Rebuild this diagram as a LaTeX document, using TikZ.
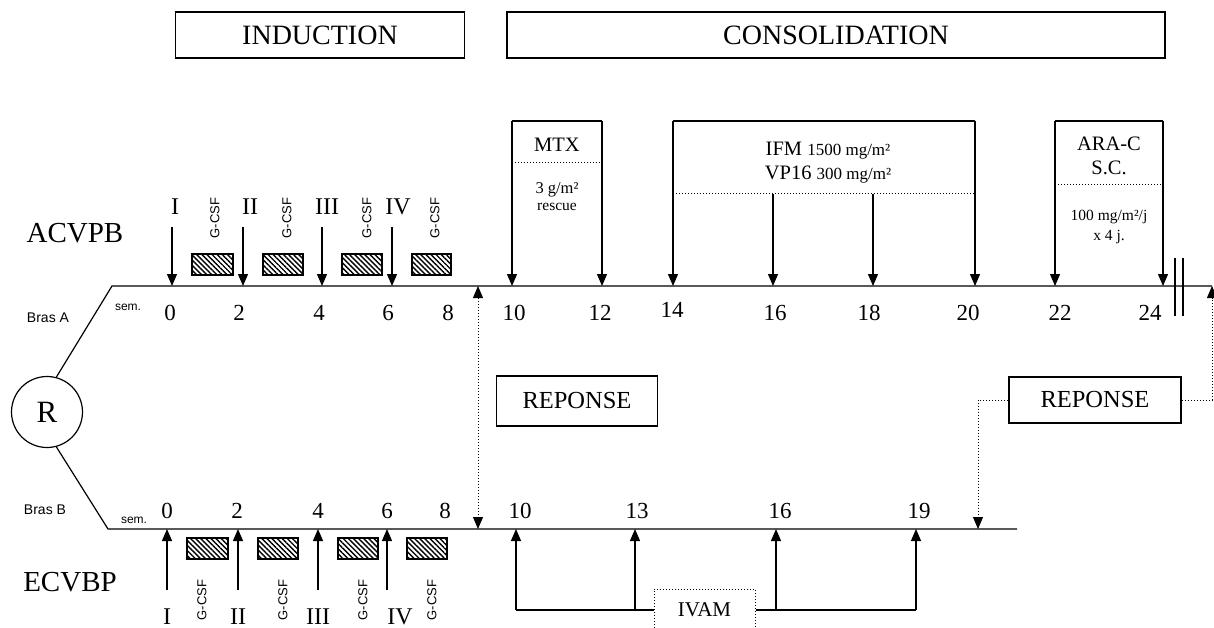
\documentclass[tikz,border=0pt]{standalone}
\usepackage{fontspec}
\setmainfont{Liberation Serif}
\setsansfont{Liberation Sans}
\usetikzlibrary{arrows.meta,patterns.meta}

\begin{document}
\begin{tikzpicture}[
                x = 1pt, y = -1pt,
                line width = 1.2pt,
                arr/.style = {draw, line width = 1.2pt, -{Triangle[length = 12pt, width = 10pt]}},
                dots/.style = {draw, line width = 1pt, dotted},
                darr/.style = {dots, {Triangle[length = 12pt, width = 10pt]}-{Triangle[length = 12pt, width = 10pt]}},
                box/.style = {draw, line width = 1.1pt, inner sep = 0pt},
                hatch/.style = {draw, line width = 1.2pt, pattern = {Lines[angle = -45, distance = 3.6pt, line width = 1.4pt]}},
                num/.style = {font = \fontsize{23}{25}\selectfont},
                roman/.style = {font = \fontsize{24}{26}\selectfont},
                title/.style = {font = \fontsize{28}{30}\selectfont},
                arm/.style = {font = \fontsize{29}{31}\selectfont},
                gcsf/.style = {font = \sffamily\fontsize{13}{15}\selectfont, rotate = 90},
                small/.style = {font = \sffamily\fontsize{14}{16}\selectfont},
                sem/.style = {font = \sffamily\fontsize{12}{14}\selectfont},
                drug/.style = {font = \fontsize{20.5}{24}\selectfont, align = center},
                dose/.style = {font = \fontsize{16.5}{20}\selectfont, align = center},
            ]
            \useasboundingbox (0, 0) rectangle (1214, 628);

            \node (IND) at (320, 35) [box, title, minimum width = 289pt, minimum height = 46pt] {INDUCTION};
            \node (CONS) at (836, 35) [box, title, minimum width = 658pt, minimum height = 46pt] {CONSOLIDATION};

            \node (ACVPB) at (75, 233) [arm] {ACVPB};
            \node (ECVBP) at (70, 582) [arm] {ECVBP};
            \node (BrasA) at (48, 318) [small] {Bras A};
            \node (BrasB) at (45, 510) [small] {Bras B};
            \node (semA) at (128, 307) [sem] {sem.};
            \node (semB) at (134, 520) [sem] {sem.};

            \node (R) at (47, 412) [draw, circle, line width = 1.2pt, minimum size = 71pt, inner sep = 0pt, font = \fontsize{31}{33}\selectfont] {R};

            \coordinate (A0) at (112, 286);
            \coordinate (Aend) at (1212, 286);
            \coordinate (B0) at (108, 529);
            \coordinate (Bend) at (1017, 529);
            \draw (R.75) -- (A0) -- (Aend);
            \draw (R.-75) -- (B0) -- (Bend);
            \draw (1175, 258) -- (1175, 316);
            \draw (1183, 258) -- (1183, 316);

            \node (nA0) at (170, 313) [num] {0};
            \node (nA2) at (239, 313) [num] {2};
            \node (nA4) at (319, 313) [num] {4};
            \node (nA6) at (388, 313) [num] {6};
            \node (nA8) at (448, 313) [num] {8};
            \node (nA10) at (514, 313) [num] {10};
            \node (nA12) at (600, 313) [num] {12};
            \node (nA14) at (672, 310) [num] {14};
            \node (nA16) at (775, 313) [num] {16};
            \node (nA18) at (869, 313) [num] {18};
            \node (nA20) at (968, 313) [num] {20};
            \node (nA22) at (1060, 313) [num] {22};
            \node (nA24) at (1150, 313) [num] {24};

            \node (rAI) at (175, 207) [roman] {I};
            \node (rAII) at (250, 207) [roman] {II};
            \node (rAIII) at (327, 207) [roman] {III};
            \node (rAIV) at (398, 207) [roman] {IV};
            \coordinate (aI) at (172, 227);
            \coordinate (aII) at (243, 227);
            \coordinate (aIII) at (322, 227);
            \coordinate (aIV) at (392, 227);
            \path[arr] (aI) -- (aI |- A0);
            \path[arr] (aII) -- (aII |- A0);
            \path[arr] (aIII) -- (aIII |- A0);
            \path[arr] (aIV) -- (aIV |- A0);

            \node (gA1) at (215, 218) [gcsf] {G-CSF};
            \node (gA2) at (287, 218) [gcsf] {G-CSF};
            \node (gA3) at (367, 218) [gcsf] {G-CSF};
            \node (gA4) at (435, 218) [gcsf] {G-CSF};
            \path[hatch] (192, 254) rectangle (233, 275);
            \path[hatch] (263, 254) rectangle (303, 275);
            \path[hatch] (342, 254) rectangle (382, 275);
            \path[hatch] (412, 254) rectangle (451, 275);

            \coordinate (mtxL) at (512, 121);
            \coordinate (mtxR) at (602, 121);
            \draw (mtxL) -- (mtxR);
            \path[dots] (512, 163) -- (602, 163);
            \path[arr] (mtxL) -- (mtxL |- A0);
            \path[arr] (mtxR) -- (mtxR |- A0);
            \node (MTX) at (557, 145) [drug] {MTX};
            \node (MTXd) at (557, 197) [dose] {3 g/m²\\[-3pt]{\fontsize{15.5}{17}\selectfont rescue}};

            \coordinate (ifmL) at (673, 121);
            \coordinate (ifmR) at (975, 121);
            \coordinate (ifm16) at (773, 194);
            \coordinate (ifm18) at (873, 194);
            \draw (ifmL) -- (ifmR);
            \path[dots] (673, 194) -- (975, 194);
            \path[arr] (ifmL) -- (ifmL |- A0);
            \path[arr] (ifm16) -- (ifm16 |- A0);
            \path[arr] (ifm18) -- (ifm18 |- A0);
            \path[arr] (ifmR) -- (ifmR |- A0);
            \node (IFM) at (828, 163) [drug] {IFM {\fontsize{17}{18}\selectfont 1500 mg/m²}\\VP16 {\fontsize{17}{18}\selectfont 300 mg/m²}};

            \coordinate (araL) at (1055, 121);
            \coordinate (araR) at (1163, 121);
            \draw (araL) -- (araR);
            \path[dots] (1055, 185) -- (1163, 185);
            \path[arr] (araL) -- (araL |- A0);
            \path[arr] (araR) -- (araR |- A0);
            \node (ARA) at (1109, 156) [drug] {ARA-C\\S.C.};
            \node (ARAd) at (1109, 227) [dose, font = \fontsize{15.5}{20}\selectfont] {100 mg/m²/j\\x 4 j.};

            \node (REP1) at (577, 401) [box, minimum width = 161pt, minimum height = 50pt, font = \fontsize{24.5}{26}\selectfont] {REPONSE};
            \node (REP2) at (1095, 400) [box, minimum width = 172pt, minimum height = 46pt, font = \fontsize{24.5}{26}\selectfont] {REPONSE};

            \coordinate (mA) at (478, 286);
            \coordinate (bR) at (978, 529);
            \path[darr] (mA) -- (mA |- B0);
            \path[dots, -{Triangle[length = 12pt, width = 10pt]}] (REP2.west) -| (bR);
            \path[dots, -{Triangle[length = 12pt, width = 10pt]}] (REP2.east) -| (Aend);

            \node (nB0) at (167, 511) [num] {0};
            \node (nB2) at (237, 511) [num] {2};
            \node (nB4) at (318, 511) [num] {4};
            \node (nB6) at (387, 511) [num] {6};
            \node (nB8) at (445, 511) [num] {8};
            \node (nB10) at (520, 511) [num] {10};
            \node (nB13) at (637, 511) [num] {13};
            \node (nB16) at (780, 511) [num] {16};
            \node (nB19) at (919, 511) [num] {19};

            \node (rBI) at (167, 617) [roman] {I};
            \node (rBII) at (238, 617) [roman] {II};
            \node (rBIII) at (318, 617) [roman] {III};
            \node (rBIV) at (400, 617) [roman] {IV};
            \coordinate (bI) at (167, 590);
            \coordinate (bII) at (238, 590);
            \coordinate (bIII) at (318, 590);
            \coordinate (bIV) at (387, 590);
            \path[arr] (bI) -- (bI |- B0);
            \path[arr] (bII) -- (bII |- B0);
            \path[arr] (bIII) -- (bIII |- B0);
            \path[arr] (bIV) -- (bIV |- B0);

            \node (gB1) at (202, 600) [gcsf] {G-CSF};
            \node (gB2) at (283, 600) [gcsf] {G-CSF};
            \node (gB3) at (363, 600) [gcsf] {G-CSF};
            \node (gB4) at (432, 600) [gcsf] {G-CSF};
            \path[hatch] (187, 538) rectangle (228, 559);
            \path[hatch] (258, 538) rectangle (298, 559);
            \path[hatch] (338, 538) rectangle (378, 559);
            \path[hatch] (407, 538) rectangle (447, 559);

            \node (IVAM) at (704.5, 610) [dots, inner sep = 0pt, minimum width = 101pt, minimum height = 42pt, font = \fontsize{21}{23}\selectfont] {IVAM};
            \coordinate (k10) at (516, 610);
            \coordinate (k13) at (635, 610);
            \coordinate (k16) at (776, 610);
            \coordinate (k19) at (916, 610);
            \draw (IVAM.west) -- (k10);
            \draw (IVAM.east) -- (k19);
            \path[arr] (k10) -- (k10 |- B0);
            \path[arr] (k13) -- (k13 |- B0);
            \path[arr] (k16) -- (k16 |- B0);
            \path[arr] (k19) -- (k19 |- B0);
        \end{tikzpicture}
\end{document}
